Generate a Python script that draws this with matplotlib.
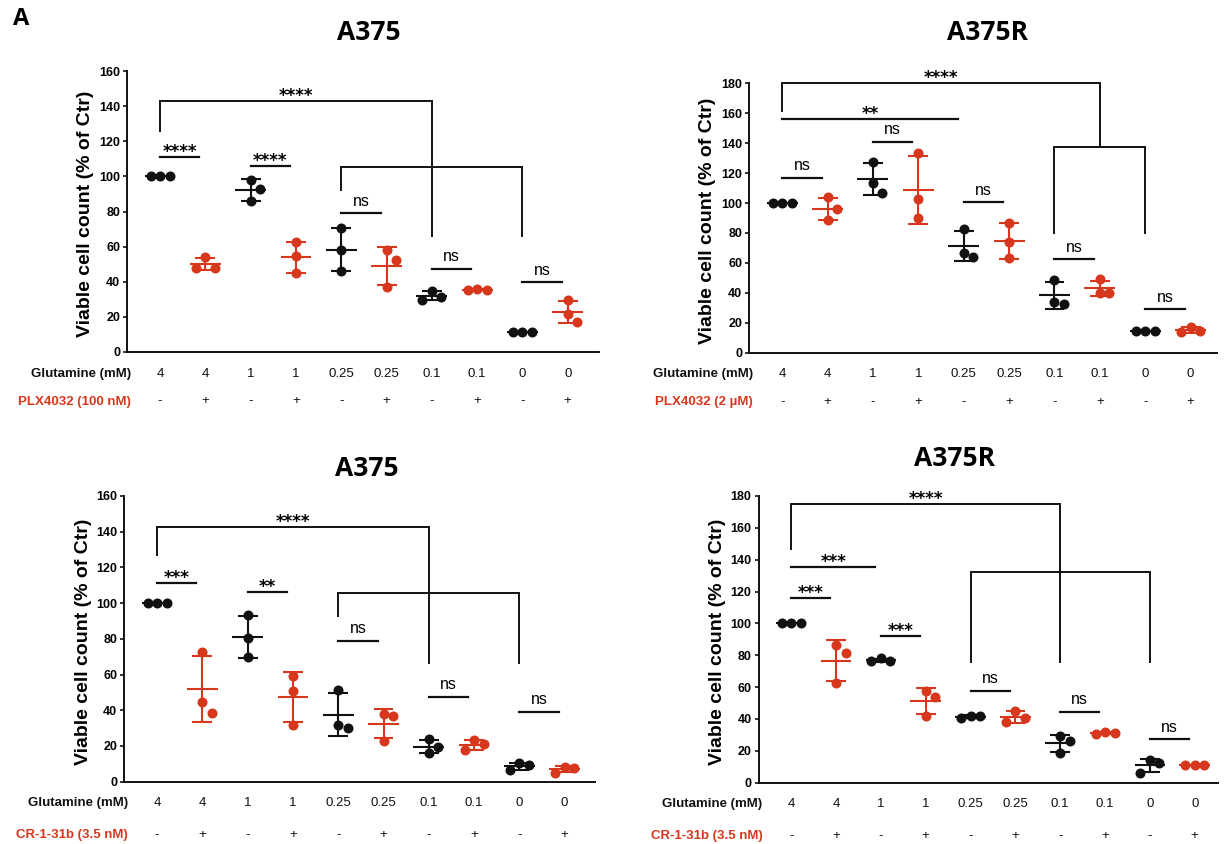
import numpy as np
import matplotlib.pyplot as plt

W, H = 1231, 844
BLACK = '#111111'
RED = '#D7381D'
SANS = ['Liberation Sans', 'DejaVu Sans']

# x categories
glutamine = ['4', '4', '1', '1', '0.25', '0.25', '0.1', '0.1', '0', '0']
drug = ['-', '+'] * 5

# viable cell count (% of Ctr), three replicates per group
a375_plx = [[100, 100, 100], [48, 54, 48], [97.9, 92.8, 85.8], [62.5, 54.5, 44.9],
            [70.6, 58.1, 46], [57.8, 52.5, 36.9], [29.7, 35, 31.6], [35.4, 35.8, 35.2],
            [11.4, 11.6, 11.2], [29.4, 21.8, 17]]
a375r_plx = [[100, 100, 100], [103.8, 95.8, 88.7], [127.6, 113.6, 106.9], [133.7, 102.5, 89.8],
             [82.4, 66.8, 63.7], [86.9, 73.7, 63], [48.6, 33.6, 32.5], [49, 40.1, 39.7],
             [14.5, 14.6, 14.4], [17.4, 14.5, 13.8]]
a375_cr = [[100, 100, 100], [72.8, 44.8, 38.3], [93.4, 80.3, 69.6], [59.2, 51, 31.7],
           [51.3, 31.7, 29.9], [37.9, 36.8, 23], [23.7, 19.2, 16.2], [23.3, 21.1, 17.7],
           [10.3, 9.3, 6.5], [8.4, 7.8, 5]]
a375r_cr = [[100, 100, 100], [86.4, 81.2, 62.4], [78, 76.4, 76.4], [57.8, 53.6, 41.9],
            [41.9, 41.9, 40.4], [45.2, 40.4, 38.3], [29.3, 26.4, 18.8], [32, 31, 30.6],
            [14.2, 12.1, 6.3], [11.1, 11.1, 10.8]]

# brackets: (left group, right group, y top, left leg end, right leg end, label)
a375_plx_brackets = [(0, 6, 143, 126, 66, '****'), (4, 8, 105.5, 92, 66, '')]
a375r_plx_brackets = [(0, 7, 180, 161.7, 137.7, '****'), (6, 8, 137.7, 79.8, 79.8, '')]
a375_cr_brackets = [(0, 6, 142.8, 127, 66.3, '****'), (4, 8, 105.5, 92.8, 66.3, '')]
a375r_cr_brackets = [(0, 6, 174.8, 147, 76, '****'), (4, 8, 132, 76, 76, '')]

# simple comparison lines: (group a, group b, y, label)
a375_plx_pairs = [(0, 1, 111, '****'), (2, 3, 106, '****'), (4, 5, 79, 'ns'),
                  (6, 7, 47.3, 'ns'), (8, 9, 39.8, 'ns')]
a375r_plx_pairs = [(0, 4, 156, '**'), (0, 1, 117, 'ns'), (2, 3, 141, 'ns'),
                   (4, 5, 100.5, 'ns'), (6, 7, 62.4, 'ns'), (8, 9, 29, 'ns')]
a375_cr_pairs = [(0, 1, 111, '***'), (2, 3, 106, '**'), (4, 5, 79, 'ns'),
                 (6, 7, 47.6, 'ns'), (8, 9, 39.2, 'ns')]
a375r_cr_pairs = [(0, 2, 135.2, '***'), (0, 1, 115.7, '***'), (2, 3, 92, '***'),
                  (4, 5, 57.8, 'ns'), (6, 7, 44.6, 'ns'), (8, 9, 27.2, 'ns')]

panels = [
    dict(title='A375', tpos=(369, 32), box=(127, 71, 599, 352), xmax=9.69, ymax=160,
         data=a375_plx, br=a375_plx_brackets, pairs=a375_plx_pairs,
         drug='PLX4032 (100 nM)', row2=48),
    dict(title='A375R', tpos=(988, 32), box=(749, 83.3, 1217, 352.7), xmax=9.58, ymax=180,
         data=a375r_plx, br=a375r_plx_brackets, pairs=a375r_plx_pairs,
         drug='PLX4032 (2 µM)', row2=48),
    dict(title='A375', tpos=(367, 469), box=(124, 496, 595, 781.7), xmax=9.67, ymax=160,
         data=a375_cr, br=a375_cr_brackets, pairs=a375_cr_pairs,
         drug='CR-1-31b (3.5 nM)', row2=52),
    dict(title='A375R', tpos=(955, 458), box=(758.5, 496, 1218, 782.7), xmax=9.52, ymax=180,
         data=a375r_cr, br=a375r_cr_brackets, pairs=a375r_cr_pairs,
         drug='CR-1-31b (3.5 nM)', row2=52),
]


def swarm(vals, ppx, ppy, step=9.5):
    # small beeswarm: push overlapping dots sideways (pixel units)
    offs = np.zeros(len(vals))
    placed = []
    for k in np.argsort(vals)[::-1]:
        y = vals[k] * ppy
        for c in [0, step, -step, 2 * step, -2 * step]:
            if all(abs(c - px) >= 9 or abs(y - py) >= 13 for px, py in placed):
                break
        placed.append((c, y))
        offs[k] = c / ppx
    return offs


fig = plt.figure(figsize=(W / 100, H / 100), dpi=100)
fig.text(21 / W, 1 - 19 / H, 'A', family='Open Sans', weight='bold', fontsize=17,
         ha='center', va='center')

PX = 0.72  # points per pixel
ROWFS = 9.5

for p in panels:
    l, t, r, b = p['box']
    ax = fig.add_axes([l / W, 1 - b / H, (r - l) / W, (b - t) / H])
    ax.set_xlim(-0.73, p['xmax'])
    ax.set_ylim(0, p['ymax'])
    for s in ['top', 'right']:
        ax.spines[s].set_visible(False)
    for s in ['left', 'bottom']:
        ax.spines[s].set_linewidth(1.4)
        ax.spines[s].set_color(BLACK)
    ax.set_xticks([])
    ax.set_yticks(np.arange(0, p['ymax'] + 1, 20))
    ax.tick_params(axis='y', direction='out', length=3, width=1.1, pad=2, labelsize=9)
    for lab in ax.get_yticklabels():
        lab.set_family(SANS)
        lab.set_weight('bold')

    fig.text(p['tpos'][0] / W, 1 - p['tpos'][1] / H, p['title'], family='Open Sans',
             weight='bold', fontsize=19, ha='center', va='center')
    ax.text(-41 / (r - l), 0.49, 'Viable cell count (% of Ctr)', transform=ax.transAxes,
            rotation=90, ha='center', va='center', family=SANS, weight='bold', fontsize=14)

    ppx = (r - l) / (p['xmax'] + 0.73)
    ppy = (b - t) / p['ymax']
    for i, vals in enumerate(p['data']):
        vals = np.array(vals, dtype=float)
        col = BLACK if i % 2 == 0 else RED
        ax.scatter(i + swarm(vals, ppx, ppy), vals, s=52, color=col, linewidths=0,
                   zorder=3, clip_on=False)
        m, sd = vals.mean(), vals.std(ddof=1)
        ax.hlines(m, i - 0.34, i + 0.34, color=col, lw=1.5, zorder=4)
        if sd > 0:
            ax.vlines(i, m - sd, m + sd, color=col, lw=1.5, zorder=4)
            ax.hlines([m - sd, m + sd], i - 0.22, i + 0.22, color=col, lw=1.5, zorder=4)

    # category rows
    for i in range(10):
        ax.annotate(glutamine[i], xy=(i, 0), xycoords=('data', 'axes fraction'),
                    xytext=(0, -24.7 * PX), textcoords='offset points', ha='center',
                    va='baseline', family=SANS, fontsize=ROWFS, color=BLACK)
        ax.annotate(drug[i], xy=(i, 0), xycoords=('data', 'axes fraction'),
                    xytext=(0, -(p['row2'] + 4.4) * PX), textcoords='offset points',
                    ha='center', va='baseline', family=SANS, fontsize=ROWFS, color=BLACK)
    ax.annotate('Glutamine (mM)', xy=(0, 0), xycoords='axes fraction',
                xytext=(4 * PX, -24.7 * PX), textcoords='offset points', ha='right',
                va='baseline', family=SANS, fontsize=ROWFS, weight='bold', color=BLACK)
    ax.annotate(p['drug'], xy=(0, 0), xycoords='axes fraction',
                xytext=(4 * PX, -(p['row2'] + 4.7) * PX), textcoords='offset points',
                ha='right', va='baseline', family=SANS, fontsize=ROWFS, weight='bold',
                color=RED)

    # significance
    def label(x, y, txt):
        if not txt:
            return
        if txt == 'ns':
            ax.annotate(txt, xy=(x, y), xytext=(0, 7.5 * PX), textcoords='offset points',
                        ha='center', va='baseline', family=SANS, fontsize=11.5,
                        annotation_clip=False)
        else:
            ax.annotate(txt, xy=(x, y), xytext=(0, 0), textcoords='offset points',
                        ha='center', va='baseline', family='DejaVu Sans', weight='bold',
                        fontsize=12, annotation_clip=False)

    for x0, x1, yt, yl, yr, txt in p['br']:
        ax.plot([x0, x0, x1, x1], [yl, yt, yt, yr], color=BLACK, lw=1.4, clip_on=False,
                solid_joinstyle='miter')
        label((x0 + x1) / 2, yt, txt)
    for a, c, y, txt in p['pairs']:
        ax.plot([a, c - 0.13], [y, y], color=BLACK, lw=1.6, clip_on=False)
        label((a + c - 0.13) / 2, y, txt)

fig.savefig('out.png', dpi=100)
